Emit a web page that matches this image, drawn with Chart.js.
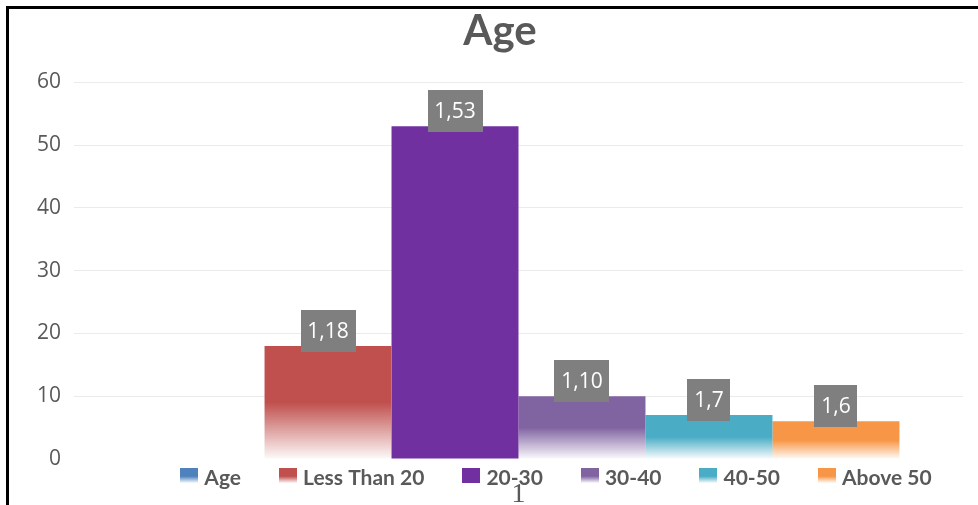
<!DOCTYPE html>
<html>
<head>
<meta charset="utf-8">
<script src="https://cdn.jsdelivr.net/npm/chart.js@4.4.1/dist/chart.umd.min.js"></script>
<style>
  html, body { margin: 0; padding: 0; width: 978px; height: 505px; overflow: hidden; background: #fff; position: relative; }
  #caption { position: absolute; left: 0; top: -23px; font: 19px "Liberation Sans", Arial, sans-serif; color: #000; white-space: nowrap; }
  #frame { position: absolute; left: 6px; top: 6px; width: 1200px; height: 800px; border-top: 3px solid #000; border-left: 3px solid #000; }
  #wrap { position: absolute; left: 11px; top: 0; width: 978px; height: 505px; }
</style>
</head>
<body>
<div id="caption">regarding the respondents' age, in this class,</div>
<div id="frame"></div>
<div id="wrap"><canvas id="chart" width="978" height="505"></canvas></div>
<script>
// Category on the x axis
const categories = ['1'];
// One series per age group
const seriesNames = ['Age', 'Less Than 20', '20-30', '30-40', '40-50', 'Above 50'];
const seriesValues = [null, 18, 53, 10, 7, 6];
// Value axis ticks
const yTicks = [0, 10, 20, 30, 40, 50, 60];

// Series colours and whether the fill fades out towards the base
const seriesColors = ['#4F81BD', '#C0504D', '#7030A0', '#8064A2', '#4BACC6', '#F79646'];
const seriesFaded = [true, true, false, true, true, true];

const TEXT_GRAY = '#595959';

function withAlpha(hex, a) {
  const n = parseInt(hex.slice(1), 16);
  return `rgba(${(n >> 16) & 255}, ${(n >> 8) & 255}, ${n & 255}, ${a})`;
}

function fadeFill(ctx2d, color, faded, top, bottom, solidPart) {
  if (!faded) return color;
  const g = ctx2d.createLinearGradient(0, top, 0, bottom);
  g.addColorStop(0, color);
  g.addColorStop(solidPart, color);
  g.addColorStop(1, withAlpha(color, 0.03));
  return g;
}

// Grey value boxes above each bar: "category,value"
const valueBoxes = {
  id: 'valueBoxes',
  afterDatasetsDraw(chart) {
    const ctx = chart.ctx;
    ctx.save();
    ctx.font = '21px "Open Sans"';
    ctx.textAlign = 'center';
    ctx.textBaseline = 'middle';
    chart.data.datasets.forEach((ds, i) => {
      const meta = chart.getDatasetMeta(i);
      meta.data.forEach((bar, j) => {
        const v = ds.data[j];
        if (v == null) return;
        const text = chart.data.labels[j] + ',' + v;
        const w = Math.round(ctx.measureText(text).width + 14);
        const h = 42;
        const bottom = Math.round(bar.y) + 6;
        const left = Math.round(bar.x - w / 2);
        ctx.fillStyle = '#7F7F7F';
        ctx.fillRect(left, bottom - h, w, h);
        ctx.fillStyle = '#FFFFFF';
        ctx.fillText(text, bar.x, bottom - h / 2 + 1);
      });
    });
    ctx.restore();
  }
};

// Legend row along the bottom and the category label under the bars
const bottomRow = {
  id: 'bottomRow',
  afterDraw(chart) {
    const ctx = chart.ctx;
    ctx.save();
    ctx.font = 'bold 21px Lato';
    const boxW = 18, boxH = 15, gap = 6, spacing = 38;
    const items = chart.data.datasets.map((ds, i) => ({
      text: ds.label,
      color: seriesColors[i],
      faded: seriesFaded[i],
      tw: ctx.measureText(ds.label).width
    }));
    const total = items.reduce((s, it) => s + boxW + gap + it.tw, 0) + spacing * (items.length - 1);
    const centerX = 545;
    let x = centerX - total / 2;
    const boxTop = 468, baseline = 485;
    items.forEach(it => {
      ctx.fillStyle = fadeFill(ctx, it.color, it.faded, boxTop, boxTop + boxH, 0.55);
      ctx.fillRect(Math.round(x), boxTop, boxW, boxH);
      ctx.fillStyle = TEXT_GRAY;
      ctx.textAlign = 'left';
      ctx.textBaseline = 'alphabetic';
      ctx.fillText(it.text, x + boxW + gap, baseline);
      x += boxW + gap + it.tw + spacing;
    });

    const xs = chart.scales.x;
    ctx.font = '28px "Liberation Serif"';
    ctx.fillStyle = TEXT_GRAY;
    ctx.textAlign = 'center';
    ctx.textBaseline = 'alphabetic';
    chart.data.labels.forEach((lab, j) => {
      ctx.fillText(lab, xs.getPixelForValue(j), 502);
    });
    ctx.restore();
  }
};

const datasets = seriesNames.map((name, i) => ({
  label: name,
  data: [seriesValues[i]],
  backgroundColor: (c) => {
    const chart = c.chart;
    const ys = chart.scales && chart.scales.y;
    if (!chart.chartArea || !ys || c.raw == null || typeof c.raw !== 'number') return seriesColors[i];
    const top = ys.getPixelForValue(c.raw);
    const base = ys.getPixelForValue(0);
    return fadeFill(chart.ctx, seriesColors[i], seriesFaded[i], top, base, 0.5);
  },
  borderWidth: 0
}));

new Chart(document.getElementById('chart'), {
  type: 'bar',
  data: { labels: categories, datasets },
  options: {
    responsive: false,
    animation: false,
    events: [],
    layout: { padding: { left: 26, right: 26, top: 0, bottom: 46 } },
    datasets: { bar: { categoryPercentage: 0.857, barPercentage: 1.0 } },
    plugins: {
      legend: { display: false },
      tooltip: { enabled: false },
      title: {
        display: true,
        text: 'Age',
        color: TEXT_GRAY,
        font: { family: 'Lato', size: 42, weight: 'bold' },
        padding: { top: 6, bottom: 26 }
      }
    },
    scales: {
      x: { display: false },
      y: {
        min: yTicks[0],
        max: yTicks[yTicks.length - 1],
        afterBuildTicks: (s) => { s.ticks = yTicks.map(v => ({ value: v })); },
        afterFit: (s) => { s.width = 37; },
        border: { display: false },
        grid: {
          drawTicks: false,
          color: (c) => (c.tick && c.tick.value === 0 ? 'rgba(0,0,0,0)' : '#EBEBEB'),
          lineWidth: 1
        },
        ticks: {
          padding: 13,
          color: TEXT_GRAY,
          font: { family: 'Open Sans', size: 21 }
        }
      }
    }
  },
  plugins: [valueBoxes, bottomRow]
});
</script>
</body>
</html>
